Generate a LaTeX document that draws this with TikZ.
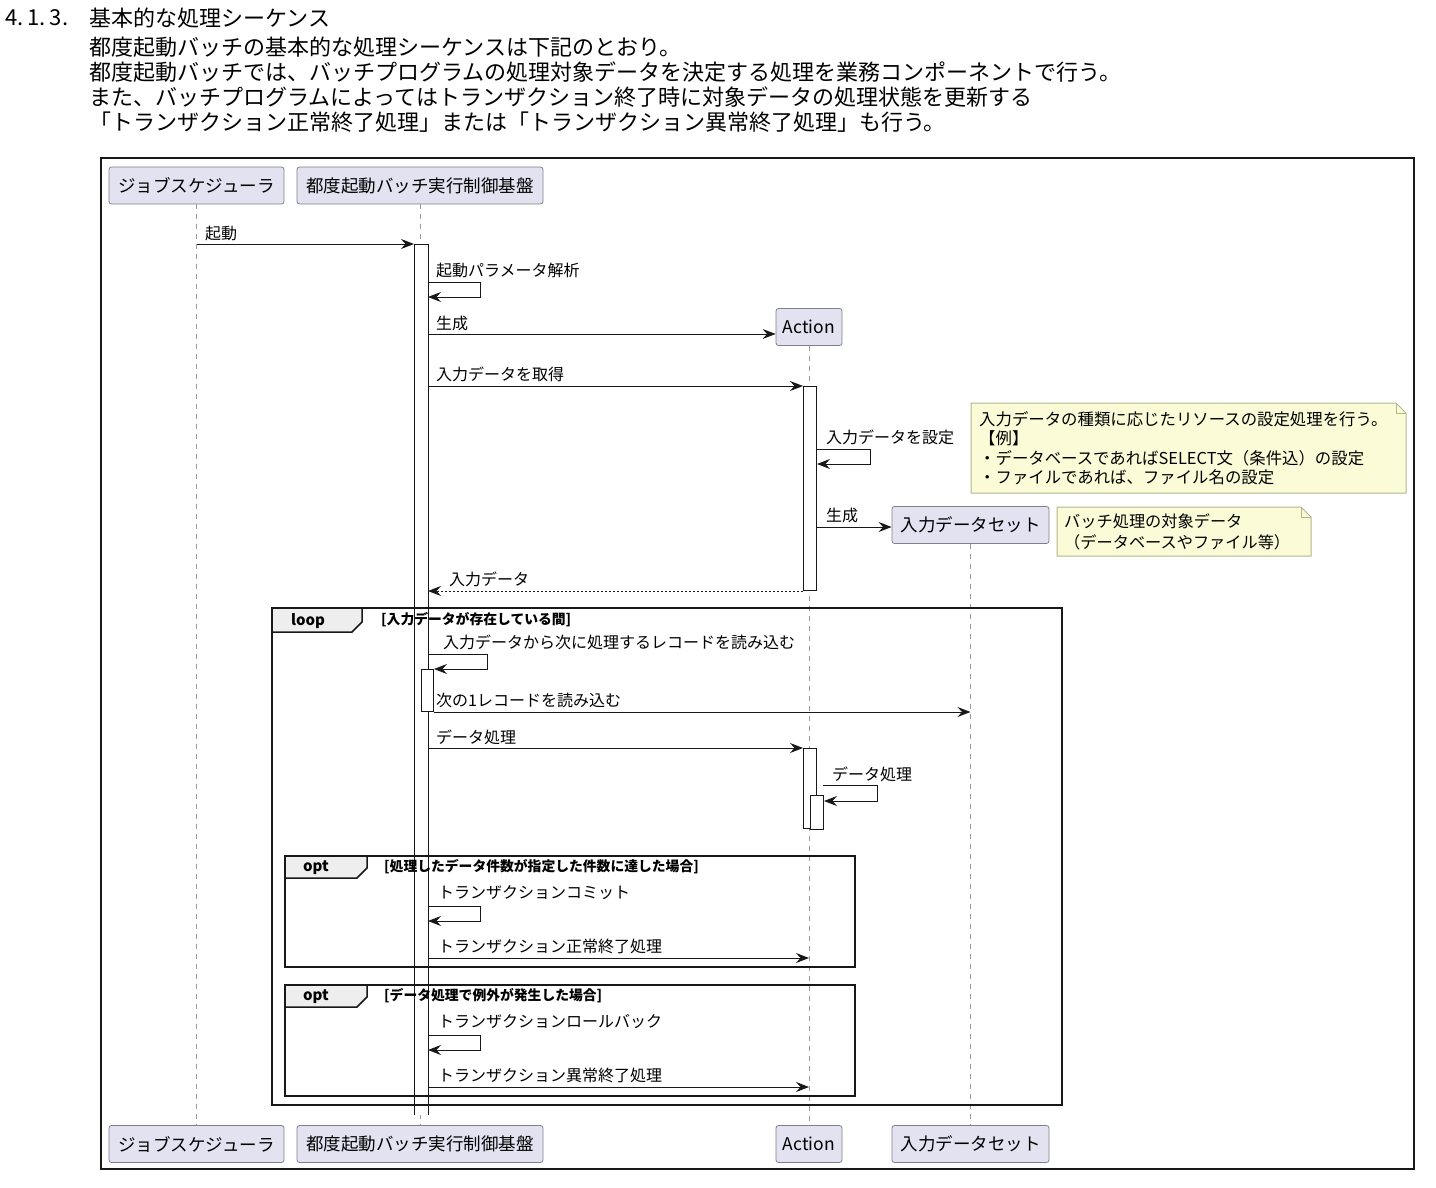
\documentclass[tikz,border=0pt]{standalone}
\usepackage{fontspec}
\setmainfont{Noto Sans CJK JP}
\usetikzlibrary{arrows.meta}
\definecolor{partfill}{HTML}{E2E2F0}
\definecolor{partdraw}{HTML}{80808C}
\definecolor{notefill}{HTML}{FBFBD8}
\definecolor{notedraw}{HTML}{B5B58A}
\definecolor{lifeclr}{HTML}{9A9A9A}
\definecolor{tabfill}{HTML}{EEEEEE}
\definecolor{ink}{HTML}{181818}
\tikzset{
  hdr/.style={anchor=west, inner sep=0pt, font=\fontsize{22}{25}\selectfont},
  part/.style={draw=partdraw, fill=partfill, rounded corners=2.5pt, minimum height=37pt, inner sep=0pt, line width=0.8pt, font=\fontsize{17.5}{20}\selectfont},
  life/.style={draw=lifeclr, dash pattern=on 5pt off 5pt, line width=0.8pt},
  actbar/.style={draw=ink, fill=white, line width=1pt, inner sep=0pt, anchor=north west},
  msg/.style={draw=ink, line width=1pt, -{Stealth[length=13pt,width=10pt,inset=4.5pt]}},
  retmsg/.style={msg, dash pattern=on 2pt off 2pt},
  lbl/.style={anchor=west, inner sep=0pt, font=\fontsize{16}{19}\selectfont},
  grpframe/.style={draw=ink, line width=2pt},
  grptab/.style={draw=ink, fill=tabfill, line width=1.5pt},
  tabtext/.style={inner sep=0pt, font=\fontsize{15}{18}\selectfont\bfseries},
  cond/.style={anchor=west, inner sep=0pt, font=\fontsize{13.8}{16}\selectfont\bfseries},
  notebox/.style={draw=notedraw, fill=notefill, line width=1pt},
  notetext/.style={anchor=north west, inner sep=0pt, align=left},
}
\begin{document}
\begin{tikzpicture}[x=1pt,y=-1pt]
\useasboundingbox (0,0) rectangle (1436,1188);

% header text
\node[hdr] (h0) at (5,18) {4.\kern4pt1.\kern4pt3.};
\node[hdr] (h1) at (89,18) {基本的な処理シーケンス};
\node[hdr] (h2) at (89,47) {都度起動バッチの基本的な処理シーケンスは下記のとおり。};
\node[hdr] (h3) at (89,72) {都度起動バッチでは、バッチプログラムの処理対象データを決定する処理を業務コンポーネントで行う。};
\node[hdr] (h4) at (89,97) {また、バッチプログラムによってはトランザクション終了時に対象データの処理状態を更新する};
\node[hdr] (h5) at (89,122) {「トランザクション正常終了処理」または「トランザクション異常終了処理」も行う。};

% outer frame
\draw[draw=ink, line width=2pt] (101,158) rectangle (1414,1169);

% participants
\node[part, minimum width=175pt] (js) at (196.5,185.5) {ジョブスケジューラ};
\node[part, minimum width=246pt] (ctl) at (420,185.5) {都度起動バッチ実行制御基盤};
\node[part, minimum width=66pt] (act) at (809,327) {Action};
\node[part, minimum width=157pt] (ds) at (970.5,525) {入力データセット};
\node[part, minimum width=175pt] (jsB) at (196.5,1144) {ジョブスケジューラ};
\node[part, minimum width=246pt] (ctlB) at (420,1144) {都度起動バッチ実行制御基盤};
\node[part, minimum width=66pt] (actB) at (809,1144) {Action};
\node[part, minimum width=157pt] (dsB) at (970.5,1144) {入力データセット};

% lifelines
\draw[life] (js.south) -- (jsB.north);
\draw[life] (ctl.south) -- (ctlB.north);
\draw[life] (act.south) -- (actB.north);
\draw[life] (ds.south) -- (dsB.north);

% activations (main bar is open at its lower end)
\node[actbar, draw=none, minimum width=13pt, minimum height=870pt] (a1) at (414,244) {};
\draw[draw=ink, line width=1pt] (a1.south west) -- (a1.north west) -- (a1.north east) -- (a1.south east);
\node[actbar, minimum width=13pt, minimum height=204pt] (a2) at (803,386) {};
\node[actbar, minimum width=12pt, minimum height=42pt] (a3) at (421,669) {};
\node[actbar, minimum width=13pt, minimum height=80pt] (a4) at (803,748) {};
\node[actbar, minimum width=13pt, minimum height=34pt] (a5) at (810,795) {};

% messages
\draw[msg] (js.south |- a1.north west) -- (a1.north west);
\node[lbl] (m1) at (205,233) {起動};

\draw[msg] (a1.east |- 0,282) -- ++(52,0) -- ++(0,15) -- (a1.east |- 0,297);
\node[lbl] (m2) at (436,270) {起動パラメータ解析};

\draw[msg] (a1.east |- 0,334) -- (act.west |- 0,334);
\node[lbl] (m3) at (436,323) {生成};

\draw[msg] (a1.east |- 0,386) -- (a2.north west);
\node[lbl] (m4) at (436,374) {入力データを取得};

\draw[msg] (a2.east |- 0,449) -- ++(53,0) -- ++(0,15) -- (a2.east |- 0,464);
\node[lbl] (m5) at (826,437) {入力データを設定};

\draw[msg] (a2.east |- 0,527) -- (ds.west |- 0,527);
\node[lbl] (m6) at (826,515) {生成};

\draw[retmsg] (a2.south west) -- (a1.east |- a2.south west);
\node[lbl] (m7) at (449,579) {入力データ};

\draw[msg] (a1.east |- 0,654) -- ++(59,0) -- ++(0,15) -- (a3.north east);
\node[lbl] (m8) at (443,642) {入力データから次に処理するレコードを読み込む};

\draw[msg] (a3.south east) -- (ds.south |- a3.south east);
\node[lbl] (m9) at (436,700) {次の1レコードを読み込む};

\draw[msg] (a1.east |- a4.north west) -- (a4.north west);
\node[lbl] (m10) at (436,737) {データ処理};

\draw[msg] (a4.east |- 0,785) ++(6,0) -- ++(54,0) -- ++(0,16) -- (a5.east |- 0,801);
\node[lbl] (m11) at (832,774) {データ処理};

\draw[msg] (a1.east |- 0,906) -- ++(52,0) -- ++(0,15) -- (a1.east |- 0,921);
\node[lbl] (m12) at (438,893) {トランザクションコミット};

\draw[msg] (a1.east |- 0,958) -- (act.south |- 0,958);
\node[lbl] (m13) at (438,946) {トランザクション正常終了処理};

\draw[msg] (a1.east |- 0,1035) -- ++(52,0) -- ++(0,15) -- (a1.east |- 0,1050);
\node[lbl] (m14) at (438,1022) {トランザクションロールバック};

\draw[msg] (a1.east |- 0,1087) -- (act.south |- 0,1087);
\node[lbl] (m15) at (438,1075) {トランザクション異常終了処理};

% loop frame
\draw[grpframe] (272,608) rectangle (1062,1105);
\draw[grptab] (272,608) -- (362,608) -- (362,622) -- (352,632) -- (272,632) -- cycle;
\node[tabtext] (t1) at (308,621) {loop};
\node[cond] (c1) at (381,620) {[入力データが存在している間]};

% opt 1
\draw[grpframe] (285,856) rectangle (855,967);
\draw[grptab] (285,856) -- (367,856) -- (367,868) -- (357,878) -- (285,878) -- cycle;
\node[tabtext] (t2) at (316,868) {opt};
\node[cond] (c2) at (384,867) {[処理したデータ件数が指定した件数に達した場合]};

% opt 2
\draw[grpframe] (285,985) rectangle (855,1096);
\draw[grptab] (285,985) -- (367,985) -- (367,997) -- (357,1007) -- (285,1007) -- cycle;
\node[tabtext] (t3) at (316,997) {opt};
\node[cond] (c3) at (384,996) {[データ処理で例外が発生した場合]};

% notes
\draw[notebox] (971,403) -- (1396,403) -- (1406,413) -- (1406,493) -- (971,493) -- cycle;
\draw[notebox, fill=none] (1396,403) -- (1396,413) -- (1406,413);
\node[notetext, font=\fontsize{16.4}{19.5}\selectfont] (n1) at (979,411) {入力データの種類に応じたリソースの設定処理を行う。\\【例】\\・データベースであればSELECT文（条件込）の設定\\・ファイルであれば、ファイル名の設定};

\draw[notebox] (1057,507) -- (1301,507) -- (1311,517) -- (1311,556) -- (1057,556) -- cycle;
\draw[notebox, fill=none] (1301,507) -- (1301,517) -- (1311,517);
\node[notetext, font=\fontsize{16.2}{21}\selectfont] (n2) at (1064,513) {バッチ処理の対象データ\\（データベースやファイル等）};
\end{tikzpicture}
\end{document}
